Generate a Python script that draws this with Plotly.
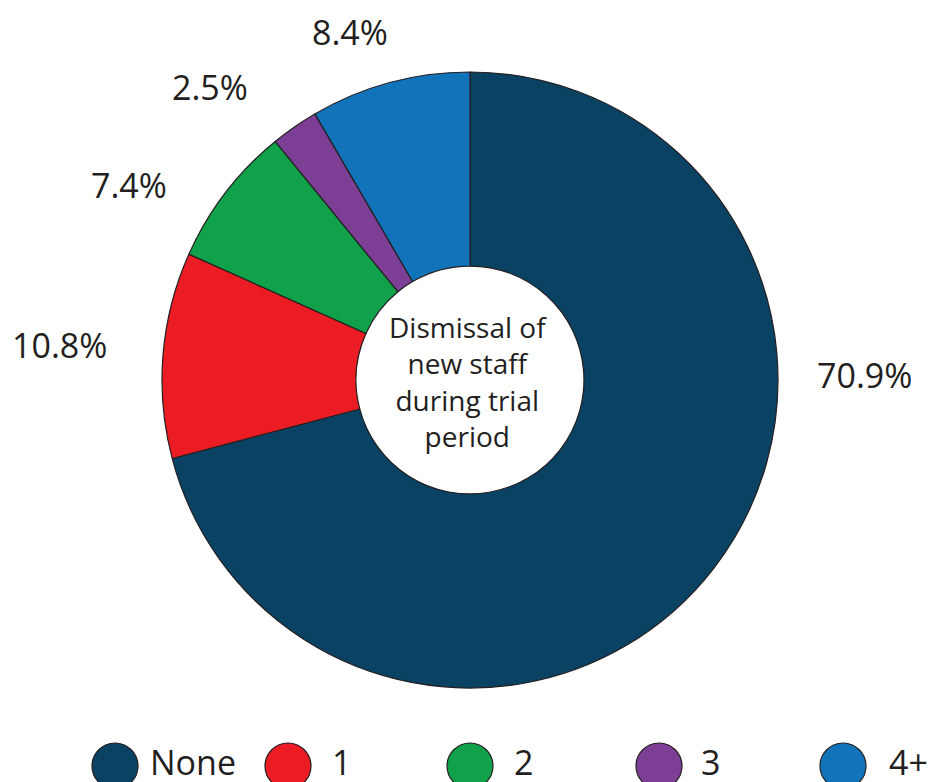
import plotly.graph_objects as go

# Survey answers: number of new staff dismissed during the trial period
categories = ["None", "1", "2", "3", "4+"]
shares = [70.9, 10.8, 7.4, 2.5, 8.4]
colors = ["#0a4264", "#ec1c24", "#10a14a", "#7d3f96", "#1174bb"]
center_title = "Dismissal of<br>new staff<br>during trial<br>period"

W, H = 936, 782
FONT = "Open Sans"
INK = "#231f20"

# Pie geometry (pixels)
cx, cy, r = 470, 380, 308

fig = go.Figure()
fig.add_trace(go.Pie(
    labels=categories,
    values=shares,
    sort=False,
    direction="clockwise",
    rotation=0,
    hole=0.37,
    textinfo="none",
    hoverinfo="label+percent",
    marker=dict(colors=colors, line=dict(color=INK, width=1.2)),
    domain=dict(x=[(cx - r) / W, (cx + r) / W],
                y=[1 - (cy + r) / H, 1 - (cy - r) / H]),
    showlegend=False,
))

# Percentage labels placed around the ring
label_pos = [(864, 375), (59, 345), (129, 185), (210, 87), (350, 32)]
annotations = []
for v, (px, py) in zip(shares, label_pos):
    annotations.append(dict(
        text=f"{v:.1f}%", x=px / W, y=1 - py / H, xref="paper", yref="paper",
        xanchor="center", yanchor="middle", showarrow=False,
        font=dict(family=FONT, size=34, color=INK),
    ))

# Title in the hole
annotations.append(dict(
    text=center_title, x=468 / W, y=1 - 381 / H, xref="paper", yref="paper",
    xanchor="center", yanchor="middle", showarrow=False,
    font=dict(family=FONT, size=28, color=INK),
))

# Custom legend row along the bottom edge (pixel axis)
legend_x = [115, 288, 470, 659, 843]
legend_gap = [35, 44, 44, 42, 46]
legend_y = 766
fig.add_trace(go.Scatter(
    x=legend_x, y=[legend_y] * len(categories),
    mode="markers",
    marker=dict(symbol="circle", size=46, color=colors,
                line=dict(color=INK, width=1.2)),
    hoverinfo="skip", showlegend=False, cliponaxis=False,
))
fig.add_trace(go.Scatter(
    x=[x + g for x, g in zip(legend_x, legend_gap)],
    y=[legend_y] * len(categories),
    mode="text", text=categories, textposition="middle right",
    textfont=dict(family=FONT, size=34, color=INK),
    hoverinfo="skip", showlegend=False, cliponaxis=False,
))

fig.update_layout(
    width=W, height=H,
    margin=dict(l=0, r=0, t=0, b=0),
    paper_bgcolor="white", plot_bgcolor="rgba(0,0,0,0)",
    xaxis=dict(range=[0, W], visible=False, fixedrange=True),
    yaxis=dict(range=[H, 0], visible=False, fixedrange=True),
    annotations=annotations,
    showlegend=False,
)

fig.write_html("out.html")
